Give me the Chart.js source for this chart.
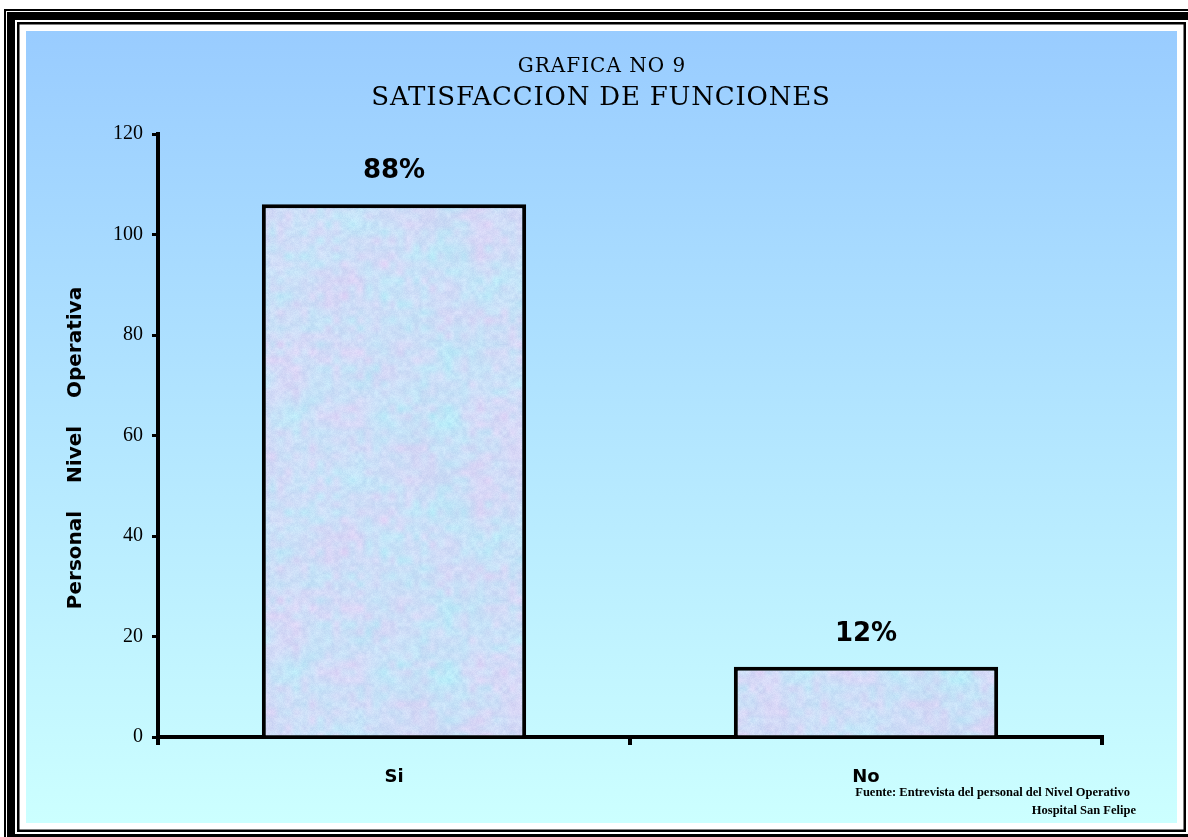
<!DOCTYPE html>
<html>
<head>
<meta charset="utf-8">
<title>Satisfaccion de funciones</title>
<script src="https://cdn.jsdelivr.net/npm/chart.js@4.4.1/dist/chart.umd.min.js"></script>
<style>
  html, body { margin: 0; padding: 0; background: #fff; }
  canvas { display: block; }
</style>
</head>
<body>
<canvas id="grafica" width="1188" height="837"></canvas>
<script>
// datos de la grafica
const categorias = ['Si', 'No'];
const personal = [106, 14];
const ejeMax = 120;
const ejePaso = 20;

const tituloSuperior = 'GRAFICA NO 9';
const tituloPrincipal = 'SATISFACCION DE FUNCIONES';
const tituloEjeY = ['Personal', 'Nivel', 'Operativa'];
const fuente = ['Fuente: Entrevista del personal del Nivel Operativo', 'Hospital San Felipe'];

const total = personal.reduce((a, b) => a + b, 0);

// generador pseudoaleatorio fijo, solo para la textura de las barras
function mulberry32(a) {
  return function () {
    a |= 0; a = a + 0x6D2B79F5 | 0;
    let t = Math.imul(a ^ a >>> 15, 1 | a);
    t = t + Math.imul(t ^ t >>> 7, 61 | t) ^ t;
    return ((t ^ t >>> 14) >>> 0) / 4294967296;
  };
}

// textura pastel tipo "papel" para el relleno de las barras
function crearTextura() {
  const size = 256;
  const c = document.createElement('canvas');
  c.width = c.height = size;
  const g = c.getContext('2d');
  const img = g.createImageData(size, size);
  const rnd = mulberry32(11);
  const rejilla = m => { const a = []; for (let i = 0; i < m * m; i++) a.push(rnd()); return a; };
  const muestra = (arr, m, x, y) => {
    const paso = size / m;
    const gx = x / paso, gy = y / paso;
    const x0 = Math.floor(gx), y0 = Math.floor(gy);
    const fx = gx - x0, fy = gy - y0;
    const sx = fx * fx * (3 - 2 * fx), sy = fy * fy * (3 - 2 * fy);
    const v = (i, j) => arr[(j % m) * m + (i % m)];
    const a = v(x0, y0) * (1 - sx) + v(x0 + 1, y0) * sx;
    const b = v(x0, y0 + 1) * (1 - sx) + v(x0 + 1, y0 + 1) * sx;
    return a * (1 - sy) + b * sy;
  };
  const rosaG = rejilla(8), rosaF = rejilla(32);
  const azulG = rejilla(8), azulF = rejilla(32);
  const fino = rejilla(64);
  for (let y = 0; y < size; y++) {
    for (let x = 0; x < size; x++) {
      const p = 0.55 * muestra(rosaG, 8, x, y) + 0.45 * muestra(rosaF, 32, x, y) - 0.5;
      const q = 0.55 * muestra(azulG, 8, x, y) + 0.45 * muestra(azulF, 32, x, y) - 0.5;
      const f = muestra(fino, 64, x, y) - 0.5;
      const grano = (rnd() - 0.5) * 10;
      const r = 204 + 28 * p - 28 * q + f * 14 + grano;
      const gg = 222 - 10 * p + 22 * q + f * 12 + grano;
      const b = 247 + 2 * p + 4 * q + f * 6 + grano * 0.5;
      const k = (y * size + x) * 4;
      img.data[k] = Math.max(0, Math.min(255, r));
      img.data[k + 1] = Math.max(0, Math.min(255, gg));
      img.data[k + 2] = Math.max(0, Math.min(255, b));
      img.data[k + 3] = 255;
    }
  }
  g.putImageData(img, 0, 0);
  return g.createPattern(c, 'repeat');
}

// marco de pagina, fondo degradado y textos
const fondo = {
  id: 'fondo',
  beforeDraw(chart) {
    const ctx = chart.ctx;
    const W = chart.width, H = chart.height;
    ctx.save();
    ctx.fillStyle = '#ffffff';
    ctx.fillRect(0, 0, W, H);
    ctx.fillStyle = '#000000';
    // linea exterior fina
    ctx.fillRect(4, 9, 2, H - 9);
    ctx.fillRect(4, 9, W - 4, 2);
    // linea gruesa
    ctx.fillRect(7, 12, 8, H - 12);
    ctx.fillRect(7, 12, W - 7, 8);
    ctx.fillRect(7, 834, W - 7, 8);
    // linea interior fina
    ctx.fillRect(17, 22, 2.5, 810);
    ctx.fillRect(17, 22, 1169, 2.5);
    ctx.fillRect(1183.5, 22, 2.5, 810);
    ctx.fillRect(17, 829.5, 1169, 2.5);
    // area de la grafica
    const grad = ctx.createLinearGradient(0, 31, 0, 823);
    grad.addColorStop(0, '#99ccff');
    grad.addColorStop(1, '#ccffff');
    ctx.fillStyle = grad;
    ctx.fillRect(26, 31, 1151, 792);
    ctx.restore();
  },
  afterDatasetsDraw(chart) {
    const ctx = chart.ctx;
    const meta = chart.getDatasetMeta(0);
    ctx.save();
    ctx.fillStyle = '#000';
    ctx.textAlign = 'center';
    ctx.textBaseline = 'alphabetic';
    ctx.font = 'bold 26px "DejaVu Sans"';
    meta.data.forEach((bar, i) => {
      const pct = Math.round(personal[i] / total * 100) + '%';
      ctx.fillText(pct, bar.x, bar.y - 26);
    });
    ctx.restore();
  },
  afterDraw(chart) {
    const ctx = chart.ctx;
    ctx.save();
    ctx.fillStyle = '#000';
    ctx.textAlign = 'center';
    ctx.textBaseline = 'alphabetic';
    ctx.letterSpacing = '1px';
    ctx.font = '20px "DejaVu Serif"';
    ctx.fillText(tituloSuperior, 602, 72);
    ctx.letterSpacing = '0.8px';
    ctx.font = '26px "DejaVu Serif"';
    ctx.fillText(tituloPrincipal, 601, 105);
    ctx.letterSpacing = '0px';

    // titulo vertical del eje Y
    ctx.save();
    ctx.translate(81, 448);
    ctx.rotate(-Math.PI / 2);
    ctx.font = 'bold 20px "DejaVu Sans"';
    ctx.fillText(tituloEjeY.join('\u00a0\u00a0\u00a0\u00a0'), 0, 0);
    ctx.restore();

    // fuente
    ctx.textAlign = 'right';
    ctx.font = 'bold 12.5px "Liberation Serif"';
    ctx.fillText(fuente[0], 1130, 796);
    ctx.fillText(fuente[1], 1136, 814);
    ctx.restore();
  }
};

new Chart(document.getElementById('grafica'), {
  type: 'bar',
  data: {
    labels: categorias,
    datasets: [{
      data: personal,
      backgroundColor: crearTextura(),
      borderColor: '#000000',
      borderWidth: 4,
      categoryPercentage: 1,
      barPercentage: 0.56
    }]
  },
  options: {
    responsive: false,
    animation: false,
    events: [],
    layout: { padding: { top: 134, right: 86, bottom: 0, left: 0 } },
    plugins: {
      legend: { display: false },
      title: { display: false },
      tooltip: { enabled: false }
    },
    scales: {
      x: {
        afterFit: s => { s.height = 100; },
        grid: { offset: true, drawOnChartArea: false, color: '#000', lineWidth: 4, tickLength: 8 },
        border: { color: '#000', width: 4 },
        ticks: { color: '#000', padding: 22, font: { family: 'DejaVu Sans', size: 18, weight: 'bold' } }
      },
      y: {
        min: 0,
        max: ejeMax,
        afterFit: s => { s.width = 158; },
        grid: { drawOnChartArea: false, color: '#000', lineWidth: 3, tickLength: 6 },
        border: { color: '#000', width: 4 },
        ticks: { stepSize: ejePaso, color: '#000', padding: 9, font: { family: 'Liberation Serif', size: 20 } }
      }
    }
  },
  plugins: [fondo]
});
</script>
</body>
</html>
